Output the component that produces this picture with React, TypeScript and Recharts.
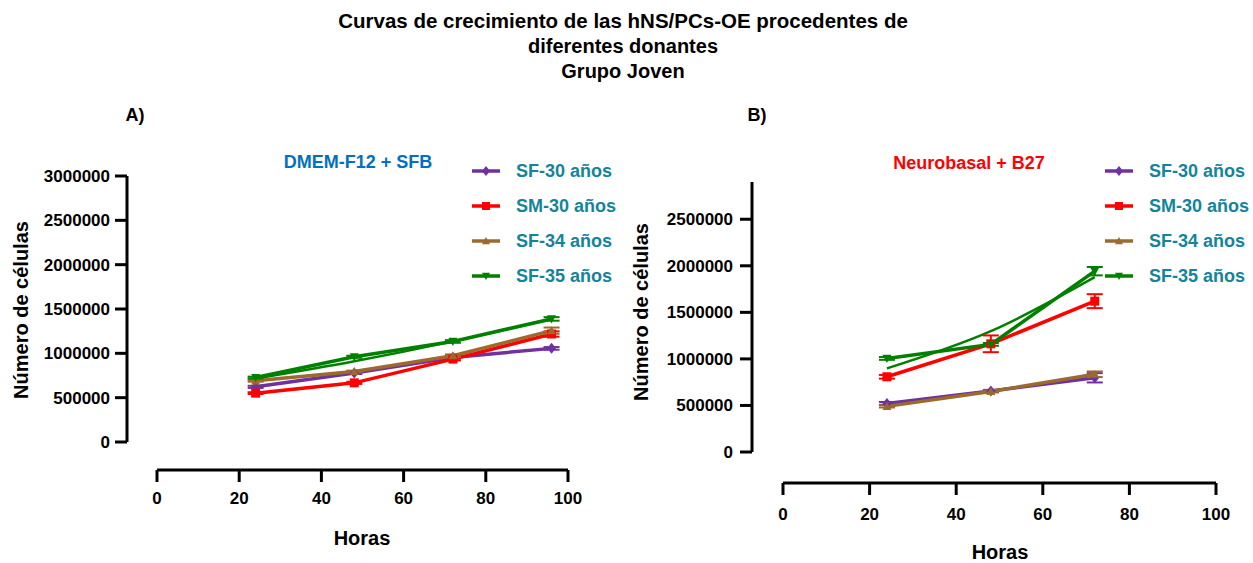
import React from "react";
import { ErrorBar, Line, LineChart, XAxis, YAxis } from "recharts";

// horas de cultivo
const hoursA = [24, 48, 72, 96];
const hoursB = [24, 48, 72];

const seriesNames = ["SF-30 años", "SM-30 años", "SF-34 años", "SF-35 años"];
const seriesColors = ["#7030A0", "#FF0000", "#9C6A2C", "#008000"];
const seriesMarkers = ["diamond", "square", "triangleUp", "triangleDown"];

// A) DMEM-F12 + SFB
const aSF30 = [622000, 777000, 954000, 1056000];
const aSM30 = [551000, 667000, 935000, 1218000];
const aSF34 = [690000, 795000, 973000, 1256000];
const aSF35 = [727000, 961000, 1134000, 1388000];
const aSF30Err = [12000, 10000, 15000, 15000];
const aSM30Err = [10000, 12000, 15000, 30000];
const aSF34Err = [10000, 10000, 15000, 35000];
const aSF35Err = [10000, 12000, 15000, 20000];
const aSF35Fit = [715000, 910000, 1135000, 1390000];

// B) Neurobasal + B27
const bSF30 = [522000, 655000, 797000];
const bSM30 = [808000, 1162000, 1620000];
const bSF34 = [490000, 650000, 835000];
const bSF35 = [1005000, 1156000, 1942000];
const bSF30Err = [15000, 12000, 50000];
const bSM30Err = [20000, 90000, 75000];
const bSF34Err = [12000, 10000, 30000];
const bSF35Err = [15000, 15000, 45000];
const bSF35Fit = [898000, 1298000, 1878000];

const xTicks = [0, 20, 40, 60, 80, 100];
const yTicksA = [0, 500000, 1000000, 1500000, 2000000, 2500000, 3000000];
const yTicksB = [0, 500000, 1000000, 1500000, 2000000, 2500000];

const FONT = '"Liberation Sans", Arial, sans-serif';
const TEAL = "#14849A";

function toRows(hours: number[], values: number[], errs?: number[]) {
  return hours.map((h, i) => ({ hora: h, celulas: values[i], err: errs ? errs[i] : 0 }));
}

function Marker({ cx, cy, shape, color, s = 4.5 }: { cx: number; cy: number; shape: string; color: string; s?: number }) {
  if (cx == null || cy == null) return null;
  if (shape === "square") {
    return <rect x={cx - s} y={cy - s} width={s * 2} height={s * 2} fill={color} />;
  }
  if (shape === "diamond") {
    return <path d={`M${cx},${cy - s - 1}L${cx + s},${cy}L${cx},${cy + s + 1}L${cx - s},${cy}Z`} fill={color} />;
  }
  if (shape === "triangleUp") {
    return <path d={`M${cx},${cy - s}L${cx + s},${cy + s * 0.8}L${cx - s},${cy + s * 0.8}Z`} fill={color} />;
  }
  return <path d={`M${cx},${cy + s}L${cx + s},${cy - s * 0.8}L${cx - s},${cy - s * 0.8}Z`} fill={color} />;
}

const axisStroke = { stroke: "#000", strokeWidth: 3 };
const tickStyle = { fill: "#000", fontSize: 17, fontWeight: 700, fontFamily: FONT };

function GrowthPanel({
  width,
  margin,
  gapX,
  gapY,
  yMax,
  yTicks,
  xTickMargin,
  yTickMargin,
  series,
  fit,
}: {
  width: number;
  margin: { top: number; right: number; left: number; bottom: number };
  gapX: number;
  gapY: number;
  yMax: number;
  yTicks: number[];
  xTickMargin: number;
  yTickMargin: number;
  series: Array<{ rows: Array<{ hora: number; celulas: number; err: number }> }>;
  fit: Array<{ hora: number; celulas: number; err: number }>;
}) {
  return (
    <LineChart width={width} height={563} margin={margin}>
      <XAxis xAxisId="gap" type="number" domain={[0, 1]} height={gapY} tick={false} axisLine={false} tickLine={false} />
      <XAxis
        xAxisId="main"
        dataKey="hora"
        type="number"
        domain={[0, 100]}
        ticks={xTicks}
        interval={0}
        height={50}
        tickSize={12}
        tickMargin={xTickMargin}
        axisLine={axisStroke}
        tickLine={axisStroke}
        tick={tickStyle}
      />
      <YAxis yAxisId="gap" type="number" domain={[0, 1]} width={gapX} tick={false} axisLine={false} tickLine={false} />
      <YAxis
        yAxisId="main"
        type="number"
        domain={[0, yMax]}
        ticks={yTicks}
        interval={0}
        width={110}
        tickSize={12}
        tickMargin={yTickMargin}
        axisLine={axisStroke}
        tickLine={axisStroke}
        tick={tickStyle}
        tickFormatter={(v: number) => String(v)}
      />
      <Line
        xAxisId="main"
        yAxisId="main"
        data={fit}
        dataKey="celulas"
        name="Ajuste SF-35 años"
        stroke={seriesColors[3]}
        strokeWidth={2.5}
        type="monotone"
        dot={false}
        isAnimationActive={false}
      />
      {series.map((s, i) => (
        <Line
          key={seriesNames[i]}
          xAxisId="main"
          yAxisId="main"
          data={s.rows}
          dataKey="celulas"
          name={seriesNames[i]}
          stroke={seriesColors[i]}
          strokeWidth={3.5}
          type="linear"
          isAnimationActive={false}
          dot={(p: any) => (
            <Marker key={`${seriesNames[i]}-${p.index}`} cx={p.cx} cy={p.cy} shape={seriesMarkers[i]} color={seriesColors[i]} />
          )}
        >
          <ErrorBar dataKey="err" direction="y" width={8} strokeWidth={2} stroke={seriesColors[i]} />
        </Line>
      ))}
    </LineChart>
  );
}

function LegendBlock({ x, y }: { x: number; y: number }) {
  return (
    <g>
      {seriesNames.map((name, i) => {
        const cy = y + i * 35;
        return (
          <g key={name}>
            <line x1={x} x2={x + 28} y1={cy} y2={cy} stroke={seriesColors[i]} strokeWidth={3.5} />
            <Marker cx={x + 14} cy={cy} shape={seriesMarkers[i]} color={seriesColors[i]} s={4} />
            <text x={x + 44} y={cy + 6} fill={TEAL} fontSize={18} fontWeight={700} fontFamily={FONT}>
              {name}
            </text>
          </g>
        );
      })}
    </g>
  );
}

export default function App() {
  const seriesA = [
    { rows: toRows(hoursA, aSF30, aSF30Err) },
    { rows: toRows(hoursA, aSM30, aSM30Err) },
    { rows: toRows(hoursA, aSF34, aSF34Err) },
    { rows: toRows(hoursA, aSF35, aSF35Err) },
  ];
  const seriesB = [
    { rows: toRows(hoursB, bSF30, bSF30Err) },
    { rows: toRows(hoursB, bSM30, bSM30Err) },
    { rows: toRows(hoursB, bSF34, bSF34Err) },
    { rows: toRows(hoursB, bSF35, bSF35Err) },
  ];

  return (
    <div style={{ position: "absolute", left: 0, top: 0, width: 1253, height: 563, background: "#fff", fontFamily: FONT }}>
      <div style={{ position: "absolute", left: 0, top: 0 }}>
        <GrowthPanel
          width={620}
          margin={{ top: 176, right: 52, left: 17, bottom: 43 }}
          gapX={30}
          gapY={28}
          yMax={3000000}
          yTicks={yTicksA}
          xTickMargin={10}
          yTickMargin={5}
          series={seriesA}
          fit={toRows(hoursA, aSF35Fit)}
        />
      </div>
      <div style={{ position: "absolute", left: 620, top: 0 }}>
        <GrowthPanel
          width={633}
          margin={{ top: 182, right: 37, left: 22, bottom: 30 }}
          gapX={31}
          gapY={31}
          yMax={2900000}
          yTicks={yTicksB}
          xTickMargin={13}
          yTickMargin={7}
          series={seriesB}
          fit={toRows(hoursB, bSF35Fit)}
        />
      </div>
      <svg width={1253} height={563} style={{ position: "absolute", left: 0, top: 0, pointerEvents: "none" }}>
        <g fontFamily={FONT} fontWeight={700} fill="#000" textAnchor="middle">
          <text x={623} y={28} fontSize={20.5}>Curvas de crecimiento de las hNS/PCs-OE procedentes de</text>
          <text x={623} y={53} fontSize={20}>diferentes donantes</text>
          <text x={623} y={78} fontSize={20}>Grupo Joven</text>
          <text x={135} y={121} fontSize={18}>A)</text>
          <text x={757} y={121} fontSize={18}>B)</text>
          <text x={358} y={168} fontSize={18}>
            <tspan fill="#0070C0">DMEM-F12 + SFB</tspan>
          </text>
          <text x={969} y={169} fontSize={18}>
            <tspan fill="#FF0000">Neurobasal + B27</tspan>
          </text>
          <text x={362} y={545} fontSize={20}>Horas</text>
          <text x={1000} y={559} fontSize={20}>Horas</text>
          <text transform="translate(28,310) rotate(-90)" fontSize={20}>Número de células</text>
          <text transform="translate(648,312) rotate(-90)" fontSize={20}>Número de células</text>
        </g>
        <LegendBlock x={472} y={171} />
        <LegendBlock x={1105} y={171} />
      </svg>
    </div>
  );
}
